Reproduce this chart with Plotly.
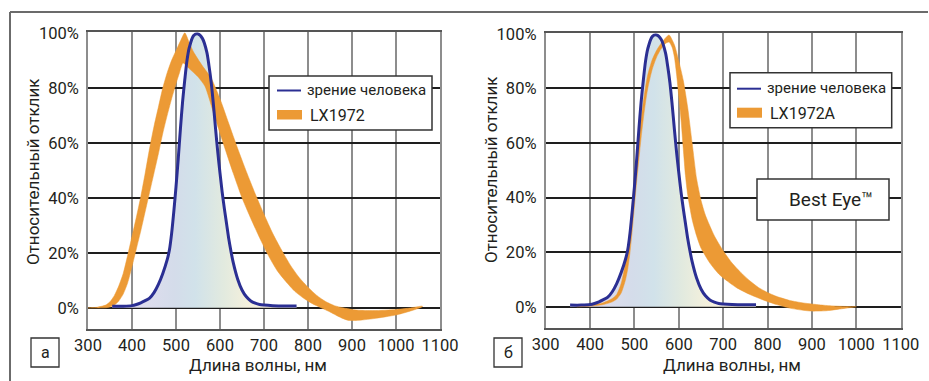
import plotly.graph_objects as go

# ---------------- data ----------------
x_ticks = [300, 400, 500, 600, 700, 800, 900, 1000, 1100]
y_ticks = [0, 20, 40, 60, 80, 100]
y_ticktext = ["0%", "20%", "40%", "60%", "80%", "100%"]

# human vision (same curve in both panels)
vision_x = [355, 380, 400, 410, 420, 430, 440, 450, 460, 470, 480, 485, 490, 495, 500, 505, 510, 515,
            520, 525, 530, 540, 550, 560, 570, 575, 580, 585, 590, 595, 600, 605, 610, 615, 620, 625,
            630, 640, 650, 660, 670, 680, 690, 700, 720, 750, 774]
vision_y = [0.6, 0.6, 0.8, 1.2, 1.8, 2.6, 3.5, 5.5, 8.5, 12.5, 17.5, 21, 27, 35, 44, 54, 65, 75,
            83, 90, 94.5, 99, 99.6, 98, 93, 88, 82, 74, 65, 56.5, 49, 42, 36, 30.5, 25, 20.5,
            16.5, 10.5, 6.5, 4, 2.5, 1.7, 1.2, 1, 0.8, 0.7, 0.7]

# LX1972 band (panel a)
lx1972_upper_x = [300, 320, 340, 350, 360, 370, 380, 390, 400, 410, 420, 430, 440, 450, 460, 470, 480,
                  490, 500, 510, 520, 530, 540, 560, 580, 600, 620, 640, 660, 680, 700, 720, 740, 760,
                  780, 800, 820, 840, 860, 880, 900, 920, 950, 1000, 1030, 1060]
lx1972_upper_y = [0, 0.2, 1, 2.2, 4.5, 8, 12.5, 19, 26, 33, 40.5, 49, 58, 66, 73, 80, 85.5,
                  90, 93.5, 97, 100, 96.5, 93, 88, 83.5, 76, 67, 58, 49.5, 41.5, 34, 27, 21, 15.5,
                  11, 7.5, 4.5, 2.3, 0.8, 0, -0.6, -0.9, -1.0, -0.6, -0.1, 0.6]
lx1972_lower_x = [300, 340, 350, 360, 370, 380, 390, 400, 410, 420, 430, 440, 450, 460, 470, 480, 490,
                  500, 508, 516, 530, 550, 566, 585, 604, 630, 650, 670, 690, 710, 730, 750, 770, 790,
                  810, 830, 850, 870, 890, 910, 950, 1000, 1030, 1060]
lx1972_lower_y = [0, 0, 0.3, 1, 2.5, 5, 9, 15, 21.5, 28, 35, 42, 49, 56, 63.5, 70, 76,
                  81.5, 85.5, 89, 87, 84, 80.5, 71, 61.5, 49, 40, 32.5, 25.5, 19, 13.5, 9.5, 6, 3.5,
                  1.5, 0, -1.5, -3.2, -4.5, -4.6, -3.9, -2.6, -1.3, 0.4]

# LX1972A band (panel б)
lx1972a_upper_x = [370, 400, 430, 450, 460, 470, 475, 480, 485, 490, 495, 500, 505, 510, 515, 520, 525,
                   530, 540, 550, 560, 570, 578, 590, 600, 610, 620, 630, 640, 650, 660, 680, 700, 720,
                   740, 760, 780, 800, 820, 850, 880, 900, 930, 960, 1000]
lx1972a_upper_y = [0, 0.6, 1.5, 3, 4.5, 8.5, 12, 16.5, 22, 29, 38, 47, 55, 62, 69, 75, 80.5,
                   85, 90.5, 94, 96.5, 98.5, 99.6, 96, 90, 83, 73, 60, 47, 39, 33.5, 26, 20.5, 16,
                   12.5, 9.5, 7, 5.2, 3.8, 2.3, 1.4, 1, 0.5, 0.2, 0]
lx1972a_lower_x = [370, 400, 430, 450, 460, 470, 480, 485, 490, 495, 500, 505, 510, 515, 520, 525, 530,
                   540, 550, 560, 570, 578, 585, 590, 595, 600, 605, 610, 615, 620, 630, 640, 650, 670,
                   690, 710, 730, 760, 790, 820, 850, 880, 900, 930, 960, 1000]
lx1972a_lower_y = [0, 0.2, 0.8, 1.8, 2.8, 5, 10, 14, 20, 28, 37, 46, 54, 62, 69, 75, 80,
                   87, 91.5, 94.5, 96.5, 97, 95, 91.5, 85, 77, 68.5, 58, 48, 41, 32, 26, 21.5, 16,
                   12, 9.3, 7, 4.5, 2.5, 0.8, -0.5, -1.3, -1.6, -1.5, -0.9, 0]

legend_vision = "зрение человека"
panel_names = ["LX1972", "LX1972A"]
panel_letters = ["а", "б"]
x_title = "Длина волны, нм"
y_title = "Относительный отклик"
badge = "Best Eye™"

# ---------------- style ----------------
W, H = 929, 381
ORANGE = "#EC9A35"
BLUE = "#2B2F93"
TXT = "#231f20"
FONT = "Roboto, Noto Sans, sans-serif"
GRAD = [[0.0, "#e2ddef"], [0.3, "#d4dcea"], [0.45, "#d1e2ea"], [0.65, "#e2eadf"],
        [0.82, "#f4f0dc"], [1.0, "#faf2e4"]]


def px(x):
    return x / W


def py(y):
    return 1 - y / H


fig = go.Figure()

panels = [
    dict(xa="x", ya="y", ux=lx1972_upper_x, uy=lx1972_upper_y, lx=lx1972_lower_x, ly=lx1972_lower_y),
    dict(xa="x2", ya="y2", ux=lx1972a_upper_x, uy=lx1972a_upper_y, lx=lx1972a_lower_x, ly=lx1972a_lower_y),
]

for p in panels:
    fig.add_trace(go.Scatter(
        x=vision_x, y=vision_y, xaxis=p["xa"], yaxis=p["ya"], mode="lines",
        line=dict(width=0, shape="spline", smoothing=0.8), fill="tozeroy",
        fillgradient=dict(type="horizontal", colorscale=GRAD, start=400, stop=720),
        hoverinfo="skip", showlegend=False))
    fig.add_trace(go.Scatter(
        x=p["ux"] + p["lx"][::-1], y=p["uy"] + p["ly"][::-1], xaxis=p["xa"], yaxis=p["ya"],
        mode="lines", line=dict(width=0.5, color=ORANGE, shape="spline", smoothing=0.6),
        fill="toself", fillcolor=ORANGE, showlegend=False))
    fig.add_trace(go.Scatter(
        x=vision_x, y=vision_y, xaxis=p["xa"], yaxis=p["ya"], mode="lines",
        line=dict(width=3, color=BLUE, shape="spline", smoothing=0.8), showlegend=False))

# axes
dom = [
    dict(x=[px(88), px(440)], y=[py(329), py(32.3)], yr=[-7.7, 100.2]),
    dict(x=[px(545.7), px(900.7)], y=[py(328.3), py(33.3)], yr=[-7.9, 100.2]),
]
for i, d in enumerate(dom):
    sfx = "" if i == 0 else str(i + 1)
    fig.layout["xaxis" + sfx] = dict(
        domain=d["x"], range=[300, 1100], anchor="y" + sfx, tickvals=x_ticks,
        showgrid=True, gridcolor="#8d8d8d", gridwidth=1.8, zeroline=False,
        showline=True, linecolor="#555", linewidth=1.8, mirror=True,
        ticks="",
        tickfont=dict(family=FONT, size=16.5, color=TXT))
    fig.layout["yaxis" + sfx] = dict(
        domain=d["y"], range=d["yr"], anchor="x" + sfx, tickvals=y_ticks, ticktext=y_ticktext,
        showgrid=True, gridcolor="#1e1e1e", gridwidth=1.6, zeroline=False,
        showline=True, linecolor="#8d8d8d", linewidth=1.8, mirror=True,
        ticks="outside", ticklen=4, tickcolor="rgba(0,0,0,0)",
        tickfont=dict(family=FONT, size=16.5, color=TXT))

shapes = []
annotations = []

# outer frame
shapes.append(dict(type="line", xref="paper", yref="paper", x0=px(10), x1=px(928), y0=py(12), y1=py(12),
                   line=dict(color="#6b6b6b", width=2)))
shapes.append(dict(type="line", xref="paper", yref="paper", x0=px(10), x1=px(10), y0=py(12), y1=py(381),
                   line=dict(color="#6b6b6b", width=2)))


def box(x0, y0, x1, y1, width=1.5):
    shapes.append(dict(type="rect", xref="paper", yref="paper", x0=px(x0), x1=px(x1), y0=py(y1), y1=py(y0),
                       line=dict(color="#333", width=width), fillcolor="white", layer="above"))


def text(x, y, s, size=16, xanchor="left", angle=0):
    annotations.append(dict(xref="paper", yref="paper", x=px(x), y=py(y), text=s, showarrow=False,
                            xanchor=xanchor, yanchor="middle", textangle=angle,
                            font=dict(family=FONT, size=size, color=TXT)))


# legends
legs = [
    dict(box=(269, 76, 432, 130), line=(277, 301, 90.5), t1=(305, 90), sw=(277, 110, 302, 119.5), t2=(308, 115)),
    dict(box=(730, 72.7, 891.7, 127.7), line=(737, 761, 88.7), t1=(765, 88), sw=(737, 107.7, 762, 117.7), t2=(768, 113)),
]
for i, L in enumerate(legs):
    box(*L["box"])
    x0, x1, yy = L["line"]
    shapes.append(dict(type="line", xref="paper", yref="paper", x0=px(x0), x1=px(x1), y0=py(yy), y1=py(yy),
                       line=dict(color=BLUE, width=2), layer="above"))
    sx0, sy0, sx1, sy1 = L["sw"]
    shapes.append(dict(type="rect", xref="paper", yref="paper", x0=px(sx0), x1=px(sx1), y0=py(sy1), y1=py(sy0),
                       line=dict(width=0), fillcolor=ORANGE, layer="above"))
    text(L["t1"][0], L["t1"][1], legend_vision, size=15)
    text(L["t2"][0], L["t2"][1], panel_names[i], size=16)

# Best Eye badge
box(757, 179, 889, 220)
text(831, 199, badge, size=19, xanchor="center")

# panel letters
for i, bx in enumerate([31, 494]):
    box(bx, 338, bx + 28, 367, width=1.3)
    text(bx + 14, 352, panel_letters[i], size=16, xanchor="center")

# axis titles
text(33, 172, y_title, size=17, xanchor="center", angle=-90)
text(258, 365, x_title, size=17, xanchor="center")
text(491, 170, y_title, size=17, xanchor="center", angle=-90)
text(732, 365, x_title, size=17, xanchor="center")

fig.update_layout(width=W, height=H, margin=dict(l=0, r=0, t=0, b=0, pad=0, autoexpand=False),
                  paper_bgcolor="white", plot_bgcolor="white", showlegend=False,
                  shapes=shapes, annotations=annotations)

fig.write_html("out.html", config={"displayModeBar": False},
               post_script="document.body.style.margin='0';")
